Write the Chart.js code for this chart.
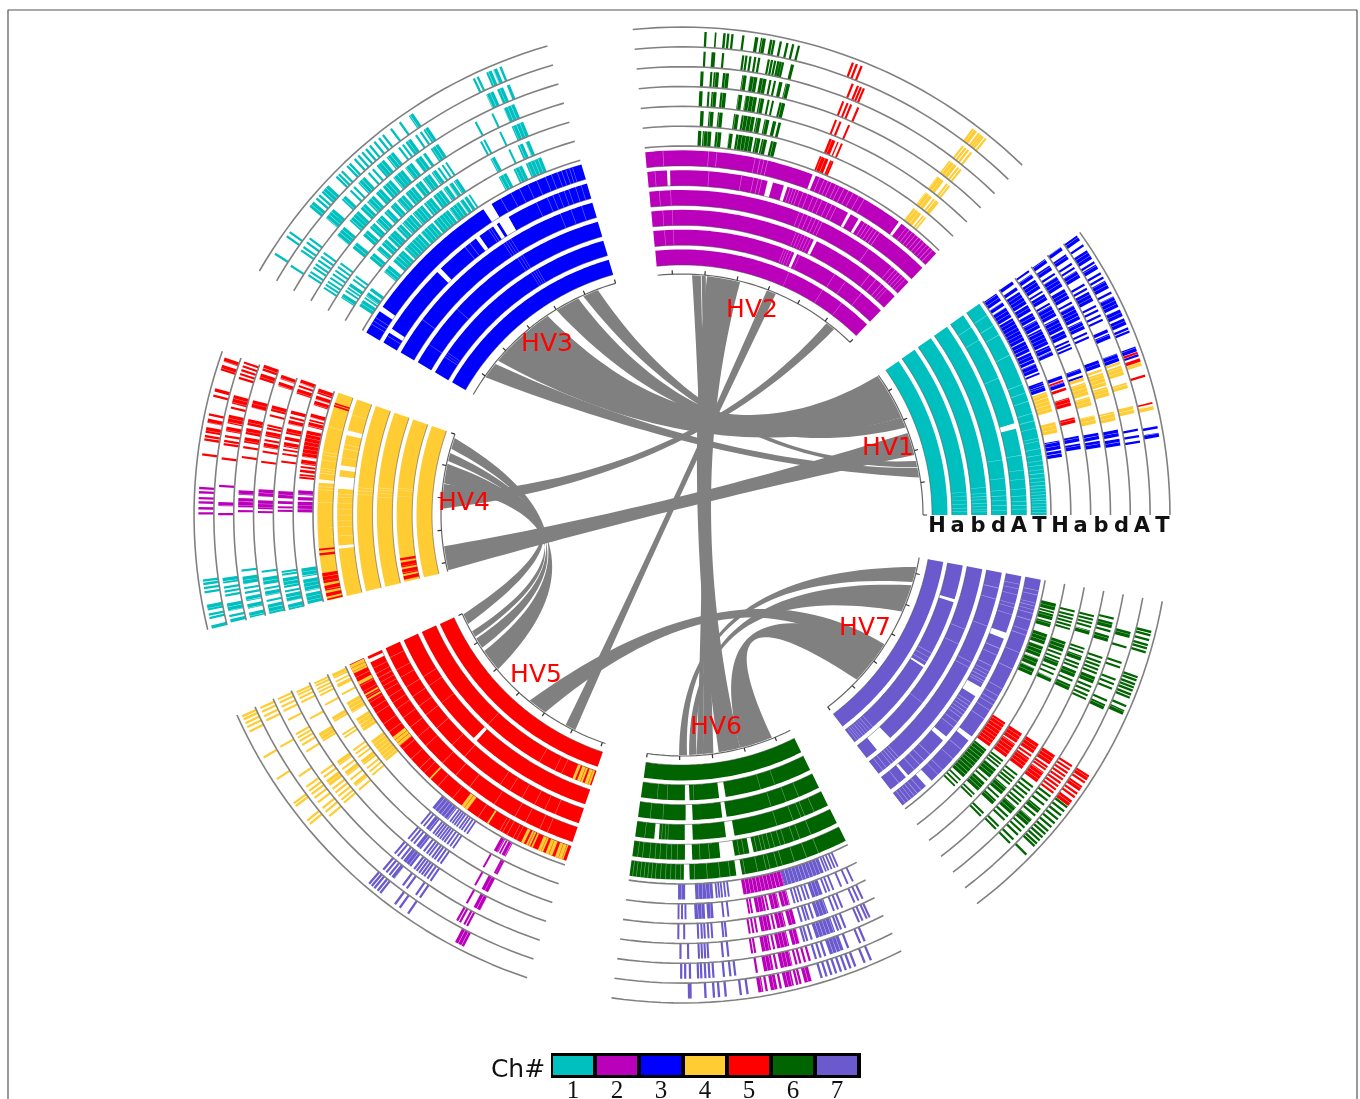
<!DOCTYPE html>
<html>
<head>
<meta charset="utf-8">
<title>Ch# ribbons</title>
<script src="https://cdn.jsdelivr.net/npm/chart.js@4/dist/chart.umd.min.js"></script>
<style>
  html, body { margin: 0; padding: 0; background: #fff; }
  canvas { display: block; filter: blur(0.45px); }
</style>
</head>
<body>
<canvas id="chart" width="1360" height="1099"></canvas>
<script>
// everything is in degrees on the circle, tracks are numbered 0-11 from the inside
const sectorNames = ["HV1", "HV2", "HV3", "HV4", "HV5", "HV6", "HV7"];
const sectorStart = [0, 45.8, 106, 160.4, 204.2, 261.7, 307.2];
const sectorEnd = [35.4, 95.8, 150, 193.6, 251.5, 296.7, 349.8];
const sectorChrom = [1, 2, 3, 4, 5, 6, 7];
const tickOffsets = [0, 7.75, 15.5, 23.25, 31, 38.75, 46.5];
const trackLabels = ["H", "a", "b", "d", "A", "T", "H", "a", "b", "d", "A", "T"];
const chromLabels = ["1", "2", "3", "4", "5", "6", "7"];
const chromColors = ["#00BFBF", "#BB00BB", "#0000FF", "#FFCC33", "#FF0000", "#006400", "#6A5ACD"];

// white gaps in the solid inner tracks: number = hairline, pair = wide gap
const hv1Gaps = [
  [],
  [0.7, 1.4, 2.2, 3, 3.8, 4.6],
  [0.6, 1, 1.6, 2.2, 2.9, 3.5, 4.1, 5.2],
  [0.8, 1.7, 2.6, 3.4, 4.4, 6.5, 9.8],
  [1, 1.6, 2.3, 3.2, 4.4, 6, 7.5, 10, [14.5, 15.4], 23.4, 30.5, 33],
  [0.4, 0.9, 1.3, 1.8, 2.3, 2.7, 3.2, 3.7, 4.2, 4.7, 5.3, 5.9, 6.6, 7.2, 7.9, 8.6, 9.5, 10.5, 11.7, 12.2, 13.8, 15, 16.2, 18.2, 19.6, 21, 26, 29.6, 31.3, 33.2]
];
const hv2Gaps = [
  [53, 58, 66.2],
  [93.5, 91.7, [66.2, 66.8], 65.6, 67.4, 68, 68.5, 69, 51, 55, 57.6],
  [93.6, 91.8, [63.8, 64.4], 65, 65.6, 66.2, 66.8, 67.4, 68, 52, 50.5, 49.2, 47.8, 48.4],
  [94, 92, 64.4, 65, 65.7, 66.4, 67.2, 68, 68.8, 46.6, 47.2, 47.8, 48.4, 49, 49.8, 55],
  [94.5, [92, 92.5], 85.5, 80, 76.6, 77.2, 78, [74.7, 75.6], [72.2, 72.8], 70.2, 70.7, 71.2, 71.7, 69.4, 68.6, 67.6, 66.8, 66, 65, 64.2, 63.4, [60.7, 61.2], [58.7, 59.2], 58, 57.4, 56.8, 56.2, 55.6, 55],
  [93, 85.8, 84.5, 78.4, 77.6, 77, 76.4, [68.5, 69], 67.8, 67, 66.4, 65.8, 65, 64.4, 63.6, 62.8, 62, 61, 60, [53, 53.5], 52, 51.4, 50.8, 50.2, 49.6, 49, 48.4, 47.8, 47.2, 46.6]
];
const hv3Gaps = [
  [],
  [120.4, 120.9, 121.4, 121.9, 145.3, 145.8, 146.3],
  [121.5, 122, 122.6, 137.5, 146],
  [108, 110, 112, 121.8, 122.3, 122.8, 123.3, 143],
  [107, 108, 109.2, 110, 111, 112, 113, 115, [120.2, 122], [122.5, 123.2], 123.7, 124.1, [126, 126.7], 128, 129, [134.4, 135.2], [147.3, 148.1], 148.7],
  [107.5, 108, 108.6, 109.3, 110, 111, 112, 113.5, 115, 116.5, 118, 119.8, [121.5, 123], [145.2, 146], 147.2, 147.8, 148.4]
];
const hv4Gaps = [
  [],
  [174.6, 175, 176.2],
  [174.9, 175.3, 175.9, 176.6],
  [175.2, 175.7, 176.4],
  [163.1, [165.8, 166.6], 168.2, 168.9, 170.4, [171.7, 172.5], [173.6, 175.6], 176.5, 177, 178, 179, 180, 181, 182, 183.5, [185.1, 185.6]],
  [166, 170, 170.5, 171.3, 172.6, 173, 173.4, [174.4, 174.9], 175.5, 176, 178]
];
const hv5Gaps = [
  [],
  [227.2, 240, 243.5, 245],
  [[227, 227.7], 212, 214, 218],
  [206, 208.5, 210, 212, 214, 216, 218, 221, 225, 228, 236, 238, 240.5, 243, 245, 247],
  [[204.7, 205.3], 206.4, 207.4, 208.2, 209, 209.8, 210.6, 211.8, 213, 214.2, 216, 218, 220, 222, 226, 229, 232, 237, 241, 243, 245.6, 247],
  [205.5, 206.5, 208, 209, 210, 211, 212, 213, 215, 216.5, 220, 222, 224, 225, 228, 231, 236, 240, 240.5, 241.3, 242.4, 243, 245]
];
const hv6Gaps = [
  [],
  [265, 267, [270.6, 271.5], [277.5, 278.8], 272.4, 286, 289],
  [264, 266.4, [270.7, 272], [277.6, 278.4], 287, 290, 292.5],
  [263.4, [265.1, 265.9], 266.4, 267, 267.5, [270.5, 271.9], [277.8, 279.3], 287, 290, 291.5, 292.2, 294],
  [262.6, 263.4, 264.6, 265.5, 266.3, 267.4, 268.2, 269.2, [270.5, 271.7], 273, 274.6, [276.4, 278.8], 279.6, 280.4, [281.3, 282], 282.6, 283.4, 284, 284.8, 285.6, 286.6, 287.4, 289, 290, 292],
  [262.2, 262.8, 263.4, 264, 264.6, 265.2, 265.8, 266.6, 267.4, 268.2, 269, 269.8, [270.3, 271.2], 272, 274, 276, 277.6, [278.6, 279.5], 280, 282, 283.4, 284, 285.2, 286, 288, 290, 292]
];
const hv7Gaps = [
  [],
  [[342.2, 342.8], [327.8, 328.2], 329, 330, 331, 307.8, 308.3, 308.8, 309.4, 310, 310.6, 311.2, 312],
  [338, 335, [309.7, 313], 322],
  [347, 345, 340, 333, 332, 310, 310.6, 311.2, 311.8, 309, 308.2],
  [348.4, 347.6, 346.6, 345, 344.4, 343.2, [339, 340], 337.2, 336, 334, 333, 332.4, 331.8, 331.2, 330.8, [328.3, 330], 327, 326.4, 325.8, 325.2, 324.6, 324, 323, 322, [319.2, 320], 316, 314.6, 313.6, 312.4, [310.5, 311], 309],
  [348, 347.3, 346, 345.5, 344.9, 344.3, 343.2, 341.5, 340.7, 337.8, 335, 331.5, 330.2, 329.3, 328.6, 327.6, 326, [321.8, 322.6], 320, 318, 315.6, 314.6, [312, 313.2], 311, 310.2, 309.6, 309, 308.4, 307.8]
];

// marks: number = single hit, pair = dense run
const hv1Blue = {
  6: [[33.9, 35.2], [33, 33.6], [31, 32.7], [27, 30.8], [25.2, 26.9], [23.4, 25], [22, 23.2], 21.6, [18.9, 19.7], 19.9, 20.2, [9.9, 11.2], [8.7, 9.7]],
  7: [[34.8, 35.3], [33.8, 34.3], [31.5, 33.5], [30.3, 31.3], [29, 30], [27.6, 28.8], [25, 27.4], [24, 24.8], [23.3, 23.9], [19.7, 20.2], [18.6, 19.2], [10.5, 11.3], [9.4, 10.2]],
  8: [35.1, [34, 34.6], [32.3, 33.7], 31.8, [30.5, 31.4], 29.9, [28, 29.6], [26, 27.7], [24.8, 25.8], 24.2, 23.7, 23.2, [19.6, 20.2], 19.1, [10.3, 11.2], [9.2, 10.1]],
  9: [[34.6, 35.2], [33.5, 34.2], 32.9, [31, 32.5], [29.2, 30.6], 28.6, [26.2, 28.2], [24.8, 25.9], 24.2, 23.6, [19.5, 20.4], [10.2, 11.1], [9, 9.9]],
  10: [[34.8, 35.3], [33.5, 34.2], 32.8, 32.2, [30.8, 31.8], 29.8, 29.2, [27.5, 28.8], 26.8, 26.2, 25.5, 24.9, [23.2, 23.6], [22.4, 23], [19.4, 20.4], 10.6, 9.8, 9.1],
  11: [[34.6, 35.3], 33.9, [32, 33.2], 31.5, [30.6, 31.2], 30, 29.4, [28, 29], 27.4, [25.5, 26.9], [24.3, 25.2], [23.2, 24], 22.7, 22.3, [19.8, 20.4], 19.3, [10.3, 10.6], [9.3, 9.8]]
};
const hv1Yellow = {
  6: [[15.6, 18.7], [12.4, 14]],
  8: [[18.5, 19], [16.5, 18.2], [15, 16.2], [12.5, 13.6]],
  9: [[18.9, 19.2], [17, 18.7], [15.6, 16.8], [12.3, 13.5]],
  10: [[19, 19.3], [17.6, 18.8], [15.9, 16.6], [12.7, 13.6]],
  11: [[18, 18.5], [12.6, 13.1]]
};
const hv1Red = {
  7: [19.4, [18, 18.4], [15.7, 16.9], [13.2, 14]],
  11: [19.6, [18.5, 18.9], [16.6, 16.9], [13.3, 13.5]]
};
const hv2Green = {
  6: [[87.1, 87.6], [85.6, 86.9], [84.1, 85], [82.4, 83], [79.3, 81.9], [78.2, 79], [77.2, 78], [75.7, 76.6]],
  7: [[86.9, 87.4], [85.5, 86.2], [84.2, 84.9], [81.9, 82.6], [79.6, 81.5], [78.7, 79.4], [77.5, 78.2], [76.5, 77], [75.8, 76.2]],
  8: [[87.2, 87.7], 86.4, [85.3, 86], [84, 84.8], [81.8, 82.4], [79.8, 81.4], [78.8, 79.5], 78.2, 77.6, [75.9, 76.7]],
  9: [[87.2, 87.6], 86.2, [85.2, 85.9], [83.9, 84.7], [81.6, 82.2], [80.2, 81.2], [79, 79.9], 78.5, 77.9, [76.9, 77.4], [75.9, 76.5]],
  10: [87.2, 86.2, 86, 84.9, 82.4, 82, 81.5, 80.9, 80.4, 79.2, 78.8, 78.4, 78, 77.7, 77.4, [76, 76.4]],
  11: [87.2, [85.9, 86.1], [84.8, 85.1], 84.5, 84, 82.7, [80.9, 81.3], [80, 80.6], [79.2, 79.5], 79, 78.2, 77.4, 76.7, 76]
};
const hv2Red = {
  6: [[67.6, 69], 67.2, 66.9],
  7: [[67.7, 68.6], [67.2, 67.4], 66.7],
  8: [68.7, [67.9, 68.2], 66.8],
  9: [68.7, 68.1, 67.6, 66.6],
  10: [68.4, 67.7, 67.3, 66.9],
  11: [69.3, 68.8, 68.2]
};
const hv2Yellow = {
  6: [[51.5, 53], 51.1, 50.7],
  7: [[51.8, 53], 51.4, 51, 50.7],
  8: [[51.9, 53], 51.3, 50.9],
  9: [[51.8, 53], 51.5, 51.1],
  10: [52.7, 52.3, 51.9, 51.4],
  11: [[52.4, 53.1], 52.1, 51.8, 51.5, 51.1]
};
const hv3Teal = {
  6: [[146, 147.1], 145.6, [144.6, 145.3], [143.8, 144.3], [139.5, 140.8], [136.5, 138.7], [133, 136.2], [130.5, 132.8], [127.5, 130.3], [125.5, 127.3], [124.7, 125.3], [124, 124.5], 123.6, [117.2, 118.5], [114.6, 116], [111.5, 114]],
  7: [[146.8, 147.5], 146.3, 145.8, [145, 145.5], 144.4, 143.8, [139.6, 140.6], [138.3, 139], [137, 138], [135.2, 136.7], [134, 134.9], [132, 133.8], [130, 131.8], [128.3, 129.7], [126.5, 128], [125.5, 126.2], [124.6, 125.2], [123.7, 124.4], [117.6, 118.3], 115.3, [113.2, 114], [112.2, 112.8]],
  8: [147.6, 147.1, 146.6, 146, 145.4, 144.8, 144.2, 143.6, [140, 141], [137.8, 138.8], [136.5, 137.4], [135, 136.2], [133.8, 134.6], [132.5, 133.4], [131, 132.2], [129.3, 130.7], [128, 129], [126.5, 127.7], [125.5, 126.2], [124.9, 125.2], 124.4, 123.8, 118.3, 117.8, 115.4, [112, 113.7]],
  9: [147.3, 146.8, 146.1, 145.6, 145, 144.4, 143.8, [139.5, 141], [136.8, 138.5], [135.5, 136.4], [134, 135.2], [132.7, 133.6], [131, 132.4], [129, 130.6], [127.5, 128.6], [126, 127], [125.3, 125.7], [123.3, 124.5], 117.7, 115.3, [112.2, 113.7]],
  10: [147.5, 145.2, 144.7, 144, 143.4, [138.7, 140.2], [136.5, 137.2], 135.6, 135, [133.2, 134.3], 132.5, 131.8, [130, 131.2], [128.5, 129.6], 127.6, 127, [125.8, 126.6], 125, 124.3, [123.2, 123.9], [114, 115], [112.7, 113.5], [111.8, 112.2]],
  11: [147.3, 144.8, 144.2, [139.6, 140.4], 139.1, 138.6, [137, 138.2], 135.6, 135.2, 134.7, 133.8, 133.4, 132.6, 132, 131.4, 130.8, 130.2, 129.5, 128.8, 128.2, 127, 125.7, [123.8, 124.4], 115.5, 115, [113.2, 113.9], [112.5, 113], [111.9, 112.2]]
};
const hv4Red = {
  1: [[188.7, 189.2], [189.6, 190.6], [191, 192], [192.4, 193.2]],
  5: [162.2, 162.6, [185.3, 185.6], [186, 186.4], [189.2, 190.8], [191.2, 192], [192.4, 193], 193.4],
  6: [[160.8, 161.6], [161.9, 162.5], [162.7, 163.4], [164.7, 165.3], 165.7, [166, 166.7], [167.3, 171.3], [171.7, 172.4], 172.8, [173.2, 173.6], 174, 174.4],
  7: [[160.4, 161], 161.4, [161.8, 162.5], [165, 165.5], 166, [166.4, 167], [167.6, 168.4], [168.8, 169.3], [169.6, 170.3], 170.7, 171.3, 172.4],
  8: [[160.7, 161.3], [161.7, 162.3], [165, 165.8], 166.4, 167.8, 168.2, [168.6, 169.3], 169.8, [170.2, 170.8], 171.4, 172.8],
  9: [[160.2, 161], [161.4, 162.2], [165, 166], [167.5, 168.3], [168.7, 169.5], [169.9, 170.6], 171.2, 172.5],
  10: [160.8, 161.3, 161.8, 162.3, 162.8, [165, 166.1], 166.6, [167.5, 168.6], [169, 169.6], 170.2, 170.8, 171.2, 173],
  11: [[161, 161.5], [161.9, 162.6], [164.8, 165.2], 165.7, 168, [168.5, 169], [169.5, 170.2], 170.6, 171, 172.8]
};
const hv4Purple = {
  6: [[176.3, 177], [177.3, 177.8], [178, 179.6]],
  7: [[176.6, 177.6], [178, 178.4], 178.9, 179.4],
  8: [[176.5, 177.5], [178, 179.2], 179.6],
  9: [[176.8, 177.4], [177.8, 179], 179.5],
  10: [176.4, [178.4, 178.9], 179.9],
  11: [176.8, 177.3, 178, 178.5, 179.2, 179.8]
};
const hv4Teal = {
  6: [[188, 189.3], [189.7, 191.5], [191.8, 193.4]],
  7: [188.1, 188.5, [189, 190.4], 190.9, [191.3, 192.4], [192.8, 193.6]],
  8: [187.7, [188.5, 189.5], 190, [190.4, 191], 191.7, [192.2, 193.5]],
  9: [187.2, [188, 189], 189.5, 190.1, [190.6, 191.2], [191.6, 192.2], [192.7, 193.4]],
  10: [[187.8, 188.5], 189, 189.5, 190, [191, 192], 192.6, [193, 193.4]],
  11: [187.8, 188.2, 188.7, 189.2, [190.7, 191.4], 191.9, 192.3, [193.2, 193.6]]
};
const hv5Yellow = {
  1: [[247.4, 248], [248.4, 249.6], [250, 251.2]],
  5: [[204.3, 205.8], [207.2, 207.8], 209.6, 210.4, [217.5, 219.3], 226.3, [232.8, 234], 237.8, [243.8, 244.3], 244.8, 245.2, 245.7, [246.7, 247.6], [248, 249.2], [249.6, 251]],
  6: [[204.4, 205.2], 205.7, [206.1, 206.7], 207.8, [209.2, 211], [212, 214.2], [216, 219.8]],
  7: [204.6, 205, 205.5, 206, 206.5, 208, [210, 210.8], 212.9, 213.4, 215.6, 216.2, 216.8, [217.4, 218.2], 218.8, 219.4, 220],
  8: [204.7, 205.1, 205.6, 206.2, 208.7, [211, 212.3], [215.5, 216.2], 216.8, [217.3, 218], 218.6, [219.2, 219.8], 220.4],
  9: [204.5, 205, 205.6, 206.2, 207.5, 209.6, 210.1, 210.6, 211.2, 212.2, 215.6, 216.2, [216.7, 217.6], 218.1, 218.7, 219.3, 219.9, 220.4],
  10: [204.6, 205.1, 205.7, 206.3, 210, 214.3, 215.9, 216.5, 217, 217.6, 218.3, 219.2, 219.8, 220.5],
  11: [204.6, 205, 205.5, 206, 206.6, 210.1, 213.1, 216.6, 217, 219.2, 219.7]
};
const hv5Slate = {
  6: [[229.5, 232.5], 232.9, 233.3, 233.7, 234.1, 234.6, 235, 235.5, 236],
  7: [229.8, 230.3, [230.7, 231.5], 232, 232.4, 232.8, 233.2, 233.6, 234, 234.5, 235, 235.5],
  8: [229.8, 230.3, 230.8, [231.2, 232], 232.5, 233, 233.4, 233.9, 234.3, 234.8, 235.3],
  9: [229.7, 230.2, 230.8, [231.1, 232.4], 232.9, 233.3, 233.7, 234.1, 234.5, 235, 235.5],
  10: [229.9, 230.4, 230.9, [231.2, 231.7], 233, 233.6, 235, 235.6],
  11: [229.7, 230.1, 230.5, 231, 231.4, 233.6, 234.3, 235.5]
};
const hv5Purple = {
  6: [[240.7, 241.4], 241.7, [242, 242.7]],
  7: [240.6, 242.4, 242.7],
  8: [240.8, [241.8, 242.8]],
  9: [241, [242, 243]],
  10: [241, 241.4, 242, 242.4],
  11: [[242, 243.2]]
};
const hv6Slate = {
  6: [[269.4, 270.5], [272, 274.7], 275.2, 275.6, 276, 276.5, 277, [285.5, 291.7], 292, 292.4, 292.9, 293.4, 293.9],
  7: [269.5, 270, 270.5, [271.8, 273.3], [273.6, 274.5], 275.9, 276.6, 286.2, 286.7, 287.2, 287.8, 288.3, [288.8, 290.4], 290.9, 291.4, 292, 293.2, 294.2, 295],
  8: [269.5, 270.3, 272.2, 272.7, 273.1, 273.6, 274.1, 275.6, 276, 286.4, 287, 287.4, 288, [288.5, 290.2], 291, 291.6, 292.2, 294, 294.6, 295.2],
  9: [269.8, 270.8, 272.2, 272.6, 273, 273.4, 275.3, 276, 286, 286.4, 287, [287.6, 290.2], 290.6, 291, 291.6, 293.5, 294, 294.6, 295],
  10: [269.9, 270.4, 271, 272, 272.4, 272.9, 273.4, 273.9, 275.2, 276, 276.6, 286.8, 287.4, 288, [288.6, 290.4], 291, 292.6, 293.2],
  11: [[270.7, 271.2], 272.8, 273.8, 274.4, 275.2, 277, 277.8, 286.8, 287.4, 288, 288.6, 289.2, 289.8, 290.4, 291, 292.2, 293]
};
const hv6Purple = {
  6: [[279.2, 285.5]],
  7: [279.6, 280, [280.6, 282], 282.3, [282.8, 284], [284.3, 285.5]],
  8: [279.2, 279.7, 280.2, [280.8, 282.2], 282.6, [283, 284.2], [284.6, 285.6]],
  9: [279.1, 279.5, [280.4, 281.6], 282, [282.4, 284], [284.4, 285.4]],
  10: [279.3, [280.2, 281.4], 281.8, [282.3, 283.8], 284.3, 284.8, 285.4, 286],
  11: [[279.1, 279.7], 280.1, [280.6, 281.4], 281.8, [282.3, 283.4], 283.8, 284.2, [284.7, 285.6]]
};
const hv7Green = {
  6: [[343, 343.8], [344.1, 345], 345.3, [345.6, 346.7], [335.3, 336.5], [336.8, 338], [338.3, 340], [340.3, 341.9], 315.2, 315.8, 316.4, [317, 322.4]],
  7: [343.6, 344.1, 344.6, 345.1, 345.6, 346.2, [335.6, 336.2], 336.8, 337.5, [338, 338.8], 339.2, 339.8, [340.2, 341.7], 315.8, 316.3, [317, 318.5], 319, [319.5, 321], 321.5, 322, 322.5],
  8: [[343.6, 344.2], 344.7, 345.2, 345.7, 346.2, [335.6, 336.4], 337, [337.5, 338.4], 338.9, 339.4, [339.9, 340.6], 341.1, 341.6, 314.8, 315.3, [317, 317.8], 318.3, [318.8, 320], 320.6, 321.1, 321.6, 322.2],
  9: [[343.4, 344.2], 344.8, [345.2, 346], 346.5, 335.5, 336, 336.6, 337.2, [337.7, 338.6], 339.1, 339.6, 340.1, 340.6, 341.2, 315, 315.5, 316.6, 317.2, [317.7, 318.8], 319.3, 319.8, 320.4, 321, 321.6, 322.2],
  10: [[344.6, 345.4], 343.4, [335.2, 335.9], 336.4, 338, 338.6, 339.2, 340.8, 341.4, 315, 315.6, 316.4, 317, 317.6, [318, 319], 319.6, [320, 320.7], 321.3, 322, 322.6],
  11: [345.6, 346, 345, 343.5, 344, 344.4, [335.6, 336.2], 336.7, 337.8, 338.2, 338.7, 339.1, 339.5, 340, 340.4, 315.4, 316.8, 317.2, 317.7, 318.2, 318.7, 319.2, 319.8, 320.4, 321, 321.6, 322.2, 322.8]
};
const hv7Red = {
  6: [[323, 327.3]],
  7: [[323.2, 325.5], [325.7, 327.3]],
  8: [[323.2, 325], 325.4, [325.8, 327.3]],
  9: [[323, 324.6], 325, 325.4, [325.8, 327.2]],
  10: [323.2, 323.7, 324.2, 324.7, 325.2, 325.7, 326.2, 326.7, 327.2],
  11: [[323, 323.8], 324.3, 324.8, [325.2, 325.9], 326.4, [326.7, 327.4]]
};
const markSeries = [
  [hv1Blue, 3], [hv1Yellow, 4], [hv1Red, 5],
  [hv2Green, 6], [hv2Red, 5], [hv2Yellow, 4],
  [hv3Teal, 1],
  [hv4Red, 5], [hv4Purple, 2], [hv4Teal, 1],
  [hv5Yellow, 4], [hv5Slate, 7], [hv5Purple, 2],
  [hv6Slate, 7], [hv6Purple, 2],
  [hv7Green, 6], [hv7Red, 5]
];
const sectorGaps = [hv1Gaps, hv2Gaps, hv3Gaps, hv4Gaps, hv5Gaps, hv6Gaps, hv7Gaps];

// links: edge one from..to, edge two from..to, bend of the curve
const links = [
  [35.4, 124, 24, 140, 26, 38],
  [24, 115.6, 21.4, 121.5, 30, 40],
  [13, 110.5, 11.5, 114.3, 38, 45],
  [11.3, 141, 9, 145, 40, 47],
  [20, 187.5, 14.5, 193.3, -4, 10],
  [53, 175, 50.7, 178.5, 8, 37],
  [69.3, 241, 67, 243.6, -10, 7],
  [84, 278.8, 76, 284, 0, 17],
  [87.6, 275, 85.5, 277.5, 24, 17],
  [85.3, 273.5, 84.3, 275, 24, 17],
  [161.3, 214.5, 164, 220, -56, -25],
  [165, 211, 167, 213.6, -54, -20],
  [167.7, 209, 172.4, 210.5, -53, -14],
  [172.6, 204.4, 175, 207, -51, 11],
  [235.3, 322, 230.6, 327.4, 54, -37],
  [347.5, 269.3, 343.8, 271.2, -2, -53],
  [343, 271.7, 336.3, 273.5, 5, -60],
  [327.4, 284, 316.7, 292, 12, -57]
];
const linkColor = "#808080";

const centerX = 682, centerY = 515;
const trackBase = 250, trackPitch = 19.83, trackWidth = 15.5;
const axisRadius = 241, linkRadius = 240;
const labelBase = 255, labelPitch = 20.5;
const legendLeft = 551, legendRight = 861, legendY = 1065.5, legendFirst = 573, legendStep = 44;
const tickLabelY = 1091;
const hubLabels = [[888, 448], [752, 310], [547, 344], [464, 503], [536, 675], [716, 727], [865, 628]];
const runDash = [3.4, 0.3];
// an unbroken dash keeps chart.js off its fast path, which merges points sharing an x pixel
const plainDash = [5000, 0];

const pol = (deg, r) => {
  const a = deg * Math.PI / 180;
  return { x: r * Math.cos(a), y: r * Math.sin(a) };
};
const page = (x, y) => ({ x: x - centerX, y: centerY - y });
const trackR = (k) => trackBase + trackPitch * k;

function arcPoints(a, b, r) {
  const n = Math.max(1, Math.ceil(Math.abs(b - a) / 1.5));
  const pts = [];
  for (let i = 0; i <= n; i++) pts.push(pol(a + (b - a) * i / n, r));
  return pts;
}

// hits become short spans, the thick line then reads as a radial tick
function spansToPoints(spans, r, hair) {
  const pts = [];
  for (const s of spans) {
    const a = Array.isArray(s) ? s[0] : s - hair;
    const b = Array.isArray(s) ? s[1] : s + hair;
    pts.push(...arcPoints(a, b, r), { x: null, y: null });
  }
  return pts;
}

function solidSpans(start, end, gaps) {
  const cuts = gaps.filter(g => Array.isArray(g)).sort((p, q) => p[0] - q[0]);
  const spans = [];
  let from = start;
  for (const c of cuts) {
    if (c[0] > from) spans.push([from, c[0]]);
    from = Math.max(from, c[1]);
  }
  if (from < end) spans.push([from, end]);
  return spans;
}

function bezierPoints(a, b, ctrl, r) {
  const p0 = pol(a, r), p2 = pol(b, r);
  const pts = [];
  for (let i = 0; i <= 40; i++) {
    const t = i / 40, u = 1 - t;
    pts.push({
      x: u * u * p0.x + 2 * u * t * ctrl.x + t * t * p2.x,
      y: u * u * p0.y + 2 * u * t * ctrl.y + t * t * p2.y
    });
  }
  return pts;
}

const datasets = [];
const addLine = (data, color, width, extra) => datasets.push(Object.assign({
  data,
  showLine: true,
  pointRadius: 0,
  borderColor: color,
  borderWidth: width,
  borderCapStyle: "butt",
  borderJoinStyle: "bevel",
  borderDash: plainDash,
  fill: false,
  tension: 0,
  spanGaps: false
}, extra || {}));

// page frame
addLine([page(8, 1099), page(8, 10), page(1357, 10), page(1357, 1099)], "#555555", 1.2);

// links
for (const l of links) {
  const ctrl = { x: l[4], y: l[5] };
  const pts = [
    ...bezierPoints(l[0], l[1], ctrl, linkRadius),
    ...arcPoints(l[1], l[3], linkRadius),
    ...bezierPoints(l[3], l[2], ctrl, linkRadius),
    ...arcPoints(l[2], l[0], linkRadius)
  ];
  addLine(pts, linkColor, 0, { fill: "shape", backgroundColor: linkColor });
}

// sectors: solid tracks first, then marks on top, then the guide arcs and axis
sectorNames.forEach((name, s) => {
  sectorGaps[s].forEach((gaps, k) => {
    const spans = solidSpans(sectorStart[s], sectorEnd[s], gaps);
    const mid = trackR(k) + trackWidth / 2;
    addLine(spansToPoints(spans, mid, 0), chromColors[sectorChrom[s] - 1], trackWidth);
    const hairs = gaps.filter(g => !Array.isArray(g));
    if (hairs.length) addLine(spansToPoints(hairs, mid, 0.05), "rgba(255,255,255,0.45)", trackWidth);
  });
});
for (const [series, chrom] of markSeries) {
  for (const k of Object.keys(series)) {
    const mid = trackR(+k) + trackWidth / 2;
    const color = chromColors[chrom - 1];
    const runs = series[k].filter(Array.isArray);
    const hits = series[k].filter(v => !Array.isArray(v));
    if (runs.length) addLine(spansToPoints(runs, mid, 0), color, trackWidth, { borderDash: runDash });
    if (hits.length) addLine(spansToPoints(hits, mid, 0.14), color, trackWidth);
  }
}
sectorNames.forEach((name, s) => {
  for (let k = 0; k <= 12; k++) {
    addLine(arcPoints(sectorStart[s], sectorEnd[s], trackR(k)), k < 6 ? "rgba(70,70,70,0.5)" : "#808080", k < 6 ? 1 : 1.6);
  }
  addLine(arcPoints(sectorStart[s], sectorEnd[s], axisRadius), "#666666", 1.2);
  const ticks = [];
  for (const off of tickOffsets) {
    const deg = sectorStart[s] + off;
    if (deg <= sectorEnd[s]) ticks.push(pol(deg, axisRadius), pol(deg, axisRadius + 4), { x: null, y: null });
  }
  addLine(ticks, "#333333", 1.2);
});

// colour bar
addLine([page(legendLeft, legendY), page(legendRight, legendY)], "#000000", 25);
chromColors.forEach((c, i) => {
  const mid = legendFirst + legendStep * i;
  addLine([page(mid - 20, legendY), page(mid + 20, legendY)], c, 19);
});

datasets.forEach((d, i) => { d.order = -i; });

const textPlugin = {
  id: "chartText",
  afterDraw(chart) {
    const { ctx, scales } = chart;
    const at = (x, y) => ({ x: scales.x.getPixelForValue(x), y: scales.y.getPixelForValue(y) });
    const put = (text, p, font, color) => {
      ctx.font = font;
      ctx.fillStyle = color;
      ctx.fillText(text, p.x, p.y);
    };
    ctx.save();
    ctx.textAlign = "center";
    ctx.textBaseline = "middle";
    sectorNames.forEach((name, i) => {
      const p = page(hubLabels[i][0], hubLabels[i][1]);
      put(name, at(p.x, p.y), "25px 'DejaVu Sans'", "#FF0000");
    });
    trackLabels.forEach((t, k) => {
      put(t, at(labelBase + labelPitch * k, centerY - 527), "bold 21px 'DejaVu Sans'", "#111111");
    });
    const ch = page(518, 1070);
    put("Ch#", at(ch.x, ch.y), "25px 'DejaVu Sans'", "#111111");
    chromLabels.forEach((t, i) => {
      const p = page(legendFirst + legendStep * i, tickLabelY);
      put(t, at(p.x, p.y), "25px 'Liberation Serif'", "#111111");
    });
    ctx.restore();
  }
};

new Chart(document.getElementById("chart"), {
  type: "scatter",
  data: { datasets },
  plugins: [textPlugin],
  options: {
    responsive: false,
    animation: false,
    events: [],
    layout: { padding: 0 },
    plugins: { legend: { display: false }, tooltip: { enabled: false } },
    scales: {
      x: { type: "linear", display: false, min: -centerX, max: 1360 - centerX },
      y: { type: "linear", display: false, min: centerY - 1099, max: centerY }
    }
  }
});
</script>
</body>
</html>
